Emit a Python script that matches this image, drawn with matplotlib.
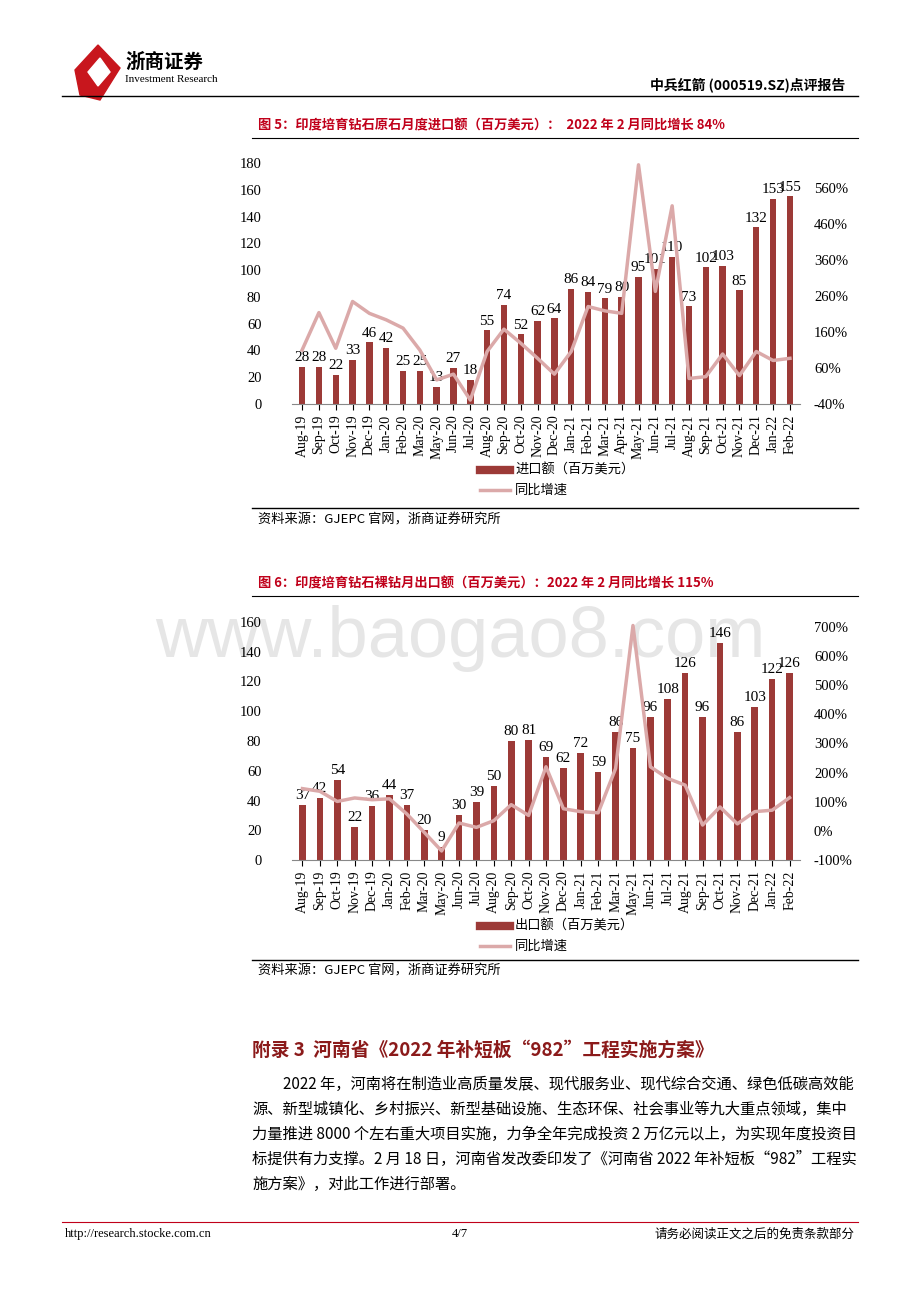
import matplotlib.pyplot as plt
from matplotlib.patches import Polygon
from matplotlib.lines import Line2D

plt.rcParams['font.family'] = ['Liberation Serif', 'Noto Sans CJK SC']

# chart 1: imports of lab-grown rough diamonds
months1 = ["Aug-19", "Sep-19", "Oct-19", "Nov-19", "Dec-19", "Jan-20", "Feb-20", "Mar-20",
           "May-20", "Jun-20", "Jul-20", "Aug-20", "Sep-20", "Oct-20", "Nov-20", "Dec-20",
           "Jan-21", "Feb-21", "Mar-21", "Apr-21", "May-21", "Jun-21", "Jul-21", "Aug-21",
           "Sep-21", "Oct-21", "Nov-21", "Dec-21", "Jan-22", "Feb-22"]
imports = [28, 28, 22, 33, 46, 42, 25, 25, 13, 27, 18, 55, 74, 52, 62, 64,
           86, 84, 79, 80, 95, 101, 110, 73, 102, 103, 85, 132, 153, 155]
imports_yoy = [110, 214, 115, 245, 212, 194, 171, 110, 27, 43, -29, 106, 168, 129, 87, 43,
               106, 231, 219, 212, 625, 273, 511, 31, 36, 99, 39, 106, 81, 87]

# chart 2: exports of lab-grown polished diamonds
months2 = ["Aug-19", "Sep-19", "Oct-19", "Nov-19", "Dec-19", "Jan-20", "Feb-20", "Mar-20",
           "May-20", "Jun-20", "Jul-20", "Aug-20", "Sep-20", "Oct-20", "Nov-20", "Dec-20",
           "Jan-21", "Feb-21", "Mar-21", "May-21", "Jun-21", "Jul-21", "Aug-21", "Sep-21",
           "Oct-21", "Nov-21", "Dec-21", "Jan-22", "Feb-22"]
exports = [37, 42, 54, 22, 36, 44, 37, 20, 9, 30, 39, 50, 80, 81, 69, 62,
           72, 59, 86, 75, 96, 108, 126, 96, 146, 86, 103, 122, 126]
exports_yoy = [145, 136, 101, 113, 107, 110, 58, -5, -69, 27, 12, 35, 90, 53, 220, 76,
               66, 62, 214, 705, 220, 180, 157, 20, 82, 24, 66, 71, 114]

BAR = "#9c3a37"
LINE = "#dba9a9"
RED = "#c0001a"
W, H = 920, 1302

fig = plt.figure(figsize=(9.2, 13.02), dpi=100)


def fy(y):
    return 1 - y / H


def fx(x):
    return x / W


def text(x, y, s, **kw):
    fig.text(fx(x), fy(y), s, **kw)


def hline(x0, x1, y, lw=0.8, color="black"):
    fig.add_artist(Line2D([fx(x0), fx(x1)], [fy(y), fy(y)], lw=lw, color=color))


# watermark (behind everything)
text(460, 638, "www.baogao8.com", fontsize=52, color="#e6e6e6", ha="center",
     va="center", family="Liberation Sans", zorder=-5)

# header
fig.add_artist(Polygon([[fx(75), fy(70)], [fx(98), fy(45)], [fx(120), fy(68)], [fx(100), fy(100)],
                        [fx(80), fy(95)]], closed=True, color="#c8161d"))
fig.add_artist(Polygon([[fx(88), fy(72)], [fx(100), fy(58)], [fx(110), fy(72)], [fx(98), fy(86)]],
                       closed=True, color="white"))
text(125, 62, "浙商证券", fontsize=14, weight="bold", va="center", family="Noto Sans CJK SC")
text(125, 80, "Investment Research", fontsize=8, va="center")
text(845, 85, "中兵红箭 (000519.SZ)点评报告", fontsize=10, weight="bold", ha="right", va="center",
     family="Noto Sans CJK SC")
hline(62, 858, 96, lw=1.0)


def draw_chart(top, bottom, cats, vals, yoy, ylim_r, rticks, lticks):
    ax = fig.add_axes([fx(292), fy(bottom), fx(800) - fx(292), fy(top) - fy(bottom)])
    ax.patch.set_alpha(0)
    x = range(len(cats))
    ax.bar(x, vals, width=0.38, color=BAR, zorder=2)
    for i, v in enumerate(vals):
        ax.text(i, v + 2, str(v), ha="center", va="bottom", fontsize=11)
    ax.set_xlim(-0.6, len(cats) - 0.4)
    ax.set_ylim(0, lticks[-1])
    ax.set_yticks(lticks)
    ax.set_xticks(list(x))
    ax.set_xticklabels(cats, rotation=90, fontsize=10)
    ax.tick_params(axis="y", length=0, labelsize=10.5, pad=22)
    ax.tick_params(axis="x", length=4, direction="out")
    for s in ["top", "right", "left"]:
        ax.spines[s].set_visible(False)
    ax.spines["bottom"].set_color("#888888")
    ax2 = ax.twinx()
    ax2.plot(list(x), yoy, color=LINE, lw=2.5, zorder=3)
    ax2.set_ylim(*ylim_r)
    ax2.set_yticks(rticks)
    ax2.set_yticklabels([f"{t}%" for t in rticks])
    ax2.tick_params(axis="y", length=0, labelsize=10.5, pad=10)
    for s in ["top", "right", "left", "bottom"]:
        ax2.spines[s].set_visible(False)
    return ax


draw_chart(163, 404, months1, imports, imports_yoy, (-40, 630),
           list(range(-40, 561, 100)), list(range(0, 181, 20)))
draw_chart(622, 860, months2, exports, exports_yoy, (-100, 717),
           list(range(-100, 701, 100)), list(range(0, 161, 20)))


def legend(y, label):
    fig.add_artist(Line2D([fx(480), fx(510)], [fy(y), fy(y)], lw=6, color=BAR))
    text(515, y, label, fontsize=9.5, va="center", family="Noto Sans CJK SC")
    fig.add_artist(Line2D([fx(480), fx(510)], [fy(y + 20), fy(y + 20)], lw=2.5, color=LINE))
    text(515, y + 20, "同比增速", fontsize=9.5, va="center", family="Noto Sans CJK SC")


legend(470, "进口额（百万美元）")
legend(926, "出口额（百万美元）")

# titles and sources
text(258, 125, "图 5：印度培育钻石原石月度进口额（百万美元）：  2022 年 2 月同比增长 84%",
     fontsize=9.5, weight="bold", color=RED, va="center", family=["Noto Sans CJK SC"])
hline(252, 858, 138, lw=0.8)
hline(252, 858, 508, lw=1.0)
text(258, 520, "资料来源：GJEPC 官网，浙商证券研究所", fontsize=9.5, va="center",
     family="Noto Sans CJK SC")

text(258, 583, "图 6：印度培育钻石裸钻月出口额（百万美元）：2022 年 2 月同比增长 115%",
     fontsize=9.5, weight="bold", color=RED, va="center", family=["Noto Sans CJK SC"])
hline(252, 858, 596, lw=0.8)
hline(252, 858, 960, lw=1.0)
text(258, 971, "资料来源：GJEPC 官网，浙商证券研究所", fontsize=9.5, va="center",
     family="Noto Sans CJK SC")

# appendix section
text(252, 1050, "附录 3  河南省《2022 年补短板“982”工程实施方案》", fontsize=13.5,
     weight="bold", color="#8b1a1a", va="center", family="Noto Sans CJK SC")
para = [
    (283, "2022 年，河南将在制造业高质量发展、现代服务业、现代综合交通、绿色低碳高效能"),
    (252, "源、新型城镇化、乡村振兴、新型基础设施、生态环保、社会事业等九大重点领域，集中"),
    (252, "力量推进 8000 个左右重大项目实施，力争全年完成投资 2 万亿元以上，为实现年度投资目"),
    (252, "标提供有力支撑。2 月 18 日，河南省发改委印发了《河南省 2022 年补短板“982”工程实"),
    (252, "施方案》，对此工作进行部署。"),
]
for i, (x0, line) in enumerate(para):
    text(x0, 1084 + i * 25, line, fontsize=11, va="center", family="Noto Sans CJK SC")

# footer
hline(62, 858, 1222, lw=0.8, color="#c0001a")
text(65, 1234, "http://research.stocke.com.cn", fontsize=9, va="center")
text(460, 1234, "4/7", fontsize=9, va="center", ha="center")
text(855, 1234, "请务必阅读正文之后的免责条款部分", fontsize=9, va="center", ha="right",
     family="Noto Sans CJK SC")

fig.savefig("out.png", dpi=100)
